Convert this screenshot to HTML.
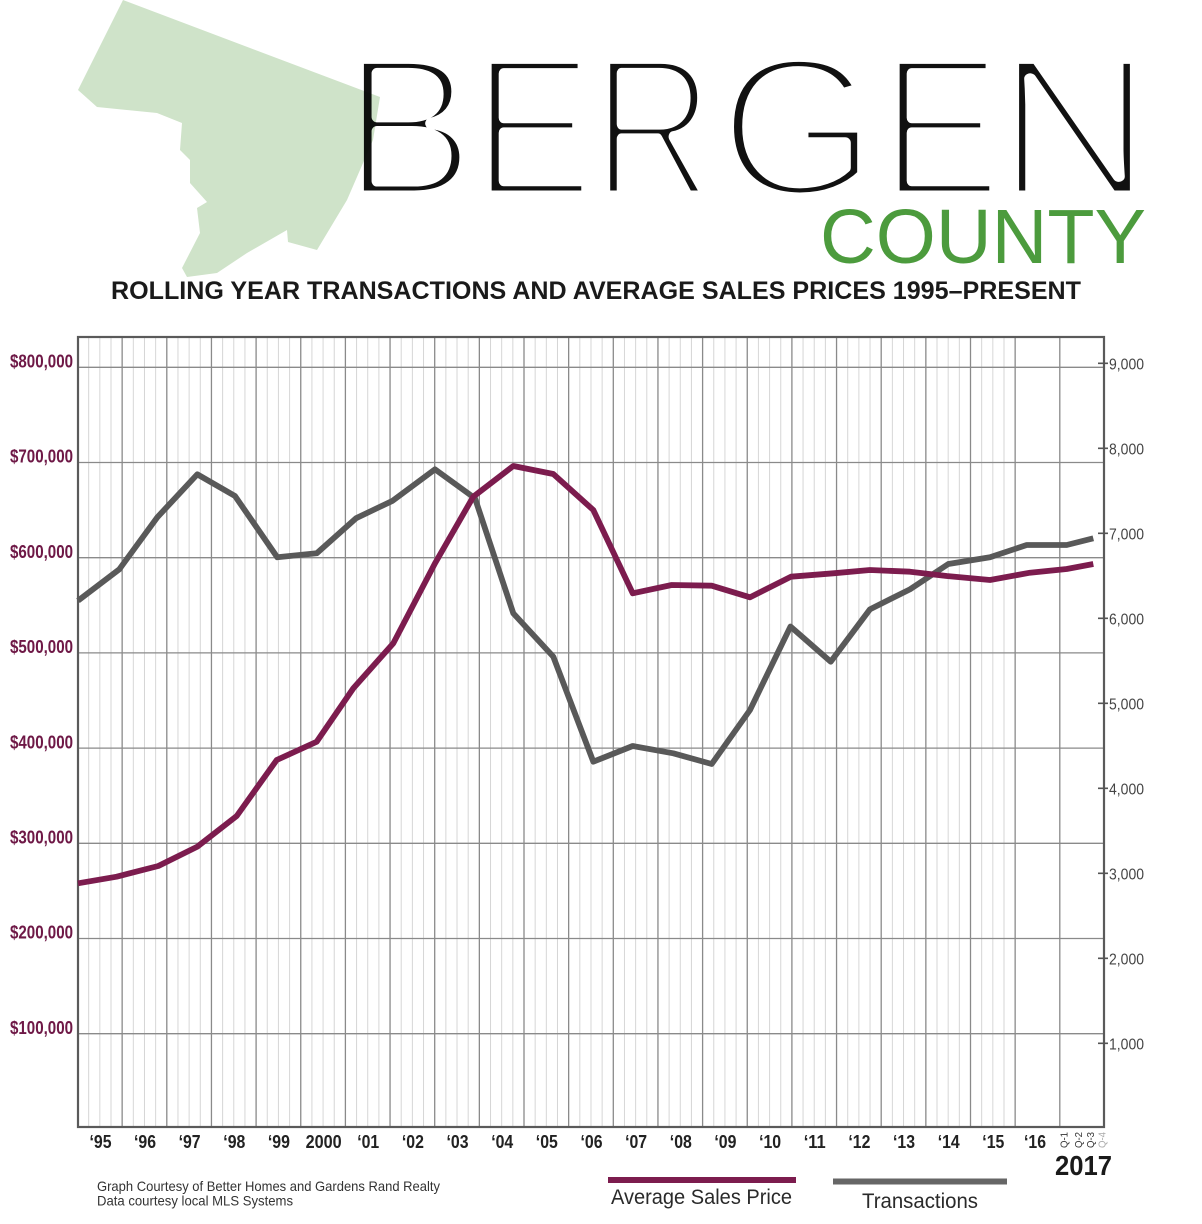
<!DOCTYPE html>
<html><head><meta charset="utf-8"><style>
html,body{margin:0;padding:0;background:#fff;}
svg{display:block;}
</style></head><body>
<svg width="1202" height="1224" viewBox="0 0 1202 1224" xmlns="http://www.w3.org/2000/svg" font-family="'Liberation Sans', Arial, sans-serif">
<rect width="1202" height="1224" fill="#fff"/>
<!-- BERGEN (thinned with white stroke painted over fill) -->
<g fill="#111" stroke="#fff" stroke-width="11" stroke-linejoin="round" font-size="200">
<text transform="translate(342,196)">B</text>
<text transform="translate(471.5,196) scale(0.92,1)">E</text>
<text transform="translate(591.6,196) scale(0.85,1)">R</text>
<text transform="translate(718,196) scale(1.03,1)">G</text>
<text transform="translate(879.5,196) scale(0.92,1)">E</text>
<text transform="translate(995,196) scale(1.1,1)">N</text>
</g>
<!-- map (multiplied so B shows through) -->
<polygon style="mix-blend-mode:multiply" fill="#cfe3c9" points="123,0 78,90 97,107 157,113 182,123 180,150 190,160 190,183 207,202 197,208 200,233 182,268 187,277 217,273 247,253 287,230 288,242 317,250 347,200 373,140 380,97"/>
<text x="820" y="263" font-size="77" fill="#4c9b3d" textLength="326" lengthAdjust="spacingAndGlyphs">COUNTY</text>
<text x="111" y="299" font-size="25" font-weight="bold" fill="#1a1a1a" textLength="970" lengthAdjust="spacingAndGlyphs">ROLLING YEAR TRANSACTIONS AND AVERAGE SALES PRICES 1995–PRESENT</text>

<!-- minor gridlines -->
<path fill="none" stroke="#d6d6d6" stroke-width="1" d="M88.6625 337v790m11.1625-790v790m11.1625-790v790m22.325-790v790m11.1625-790v790m11.1625-790v790m22.325-790v790m11.1625-790v790m11.1625-790v790m22.325-790v790m11.1625-790v790m11.1625-790v790m22.325-790v790m11.1625-790v790m11.1625-790v790m22.325-790v790m11.1625-790v790m11.1625-790v790m22.325-790v790m11.1625-790v790m11.1625-790v790m22.325-790v790m11.1625-790v790m11.1625-790v790m22.325-790v790m11.1625-790v790m11.1625-790v790m22.325-790v790m11.1625-790v790m11.1625-790v790m22.325-790v790m11.1625-790v790m11.1625-790v790m22.325-790v790m11.1625-790v790m11.1625-790v790m22.325-790v790m11.1625-790v790m11.1625-790v790m22.325-790v790m11.1625-790v790m11.1625-790v790m22.325-790v790m11.1625-790v790m11.1625-790v790m22.325-790v790m11.1625-790v790m11.1625-790v790m22.325-790v790m11.1625-790v790m11.1625-790v790m22.325-790v790m11.1625-790v790m11.1625-790v790m22.325-790v790m11.1625-790v790m11.1625-790v790m22.325-790v790m11.1625-790v790m11.1625-790v790m22.325-790v790m11.1625-790v790m11.1625-790v790"/>
<!-- major vertical gridlines -->
<path fill="none" stroke="#8a8a8a" stroke-width="1.3" d="M122.15 337v790m44.65-790v790m44.65-790v790m44.65-790v790m44.65-790v790m44.65-790v790m44.65-790v790m44.65-790v790m44.65-790v790m44.65-790v790m44.65-790v790m44.65-790v790m44.65-790v790m44.65-790v790m44.65-790v790m44.65-790v790m44.65-790v790m44.65-790v790m44.65-790v790m44.65-790v790m44.65-790v790m44.65-790v790"/>
<!-- horizontal gridlines -->
<path fill="none" stroke="#8a8a8a" stroke-width="1.3" d="M78 367.3H1104M78 462.5H1104M78 557.7H1104M78 652.9H1104M78 748.1H1104M78 843.3H1104M78 938.5H1104M78 1033.7H1104"/>
<!-- frame -->
<rect x="78" y="337" width="1026" height="790" fill="none" stroke="#5a5a5a" stroke-width="2.2"/>
<!-- right ticks -->
<path fill="none" stroke="#555" stroke-width="1.6" d="M1098 363.3h10M1098 448.3h10M1098 533.3h10M1098 618.3h10M1098 703.3h10M1098 788.3h10M1098 873.3h10M1098 958.3h10M1098 1043.3h10"/>

<!-- Transactions line -->
<polyline fill="none" stroke="#595959" stroke-width="5.8" stroke-linejoin="round" points="78,600.7 119.3,569.3 157.3,517.3 197.3,474.3 235,496 277.3,557.3 316.7,553.3 356,518.3 392.7,500.7 435,469.3 475,498.3 513.3,613.3 553.3,656.7 593.3,761.7 632.7,746 673.3,753.3 711.7,764 750,710 790.5,626.5 830.7,661.7 870,609.3 910,589.3 948.3,564 990,557.3 1026.7,545 1066.7,545 1093.3,538.3"/>
<!-- Avg price line -->
<polyline fill="none" stroke="#7c1c4e" stroke-width="5.8" stroke-linejoin="round" points="78,883.3 116.7,876.7 158.3,866 197.3,846.7 236.7,816 276.7,760 316.7,741.7 353.3,688.3 393.3,643.3 435,563.3 473.3,496.7 513.3,466 553.3,474 593.3,510 632.7,593.3 671.7,585 711.7,585.7 750,597.3 791,576.7 833.3,573.3 870,570 910,571.7 946.7,576 990,580 1030,572.7 1066.7,569 1093.3,564"/>

<!-- left labels -->
<g font-size="18.5" font-weight="bold" fill="#6e1846">
<text x="10" y="367.5" textLength="63" lengthAdjust="spacingAndGlyphs">$800,000</text>
<text x="10" y="462.7" textLength="63" lengthAdjust="spacingAndGlyphs">$700,000</text>
<text x="10" y="557.9" textLength="63" lengthAdjust="spacingAndGlyphs">$600,000</text>
<text x="10" y="653.1" textLength="63" lengthAdjust="spacingAndGlyphs">$500,000</text>
<text x="10" y="748.3" textLength="63" lengthAdjust="spacingAndGlyphs">$400,000</text>
<text x="10" y="843.5" textLength="63" lengthAdjust="spacingAndGlyphs">$300,000</text>
<text x="10" y="938.7" textLength="63" lengthAdjust="spacingAndGlyphs">$200,000</text>
<text x="10" y="1033.9" textLength="63" lengthAdjust="spacingAndGlyphs">$100,000</text>
</g>
<!-- right labels -->
<g font-size="16" fill="#444">
<text x="1109" y="369.5" textLength="35" lengthAdjust="spacingAndGlyphs">9,000</text>
<text x="1109" y="454.5" textLength="35" lengthAdjust="spacingAndGlyphs">8,000</text>
<text x="1109" y="539.5" textLength="35" lengthAdjust="spacingAndGlyphs">7,000</text>
<text x="1109" y="624.5" textLength="35" lengthAdjust="spacingAndGlyphs">6,000</text>
<text x="1109" y="709.5" textLength="35" lengthAdjust="spacingAndGlyphs">5,000</text>
<text x="1109" y="794.5" textLength="35" lengthAdjust="spacingAndGlyphs">4,000</text>
<text x="1109" y="879.5" textLength="35" lengthAdjust="spacingAndGlyphs">3,000</text>
<text x="1109" y="964.5" textLength="35" lengthAdjust="spacingAndGlyphs">2,000</text>
<text x="1109" y="1049.5" textLength="35" lengthAdjust="spacingAndGlyphs">1,000</text>
</g>
<!-- x labels -->
<g font-size="18.5" font-weight="bold" fill="#222" text-anchor="middle">
<text x="100.5" y="1148" textLength="22" lengthAdjust="spacingAndGlyphs">‘95</text>
<text x="145" y="1148" textLength="22" lengthAdjust="spacingAndGlyphs">‘96</text>
<text x="189.6" y="1148" textLength="22" lengthAdjust="spacingAndGlyphs">‘97</text>
<text x="234.3" y="1148" textLength="22" lengthAdjust="spacingAndGlyphs">‘98</text>
<text x="278.9" y="1148" textLength="22" lengthAdjust="spacingAndGlyphs">‘99</text>
<text x="323.6" y="1148" textLength="36" lengthAdjust="spacingAndGlyphs">2000</text>
<text x="368.2" y="1148" textLength="22" lengthAdjust="spacingAndGlyphs">‘01</text>
<text x="412.9" y="1148" textLength="22" lengthAdjust="spacingAndGlyphs">‘02</text>
<text x="457.5" y="1148" textLength="22" lengthAdjust="spacingAndGlyphs">‘03</text>
<text x="502.2" y="1148" textLength="22" lengthAdjust="spacingAndGlyphs">‘04</text>
<text x="546.8" y="1148" textLength="22" lengthAdjust="spacingAndGlyphs">‘05</text>
<text x="591.5" y="1148" textLength="22" lengthAdjust="spacingAndGlyphs">‘06</text>
<text x="636.1" y="1148" textLength="22" lengthAdjust="spacingAndGlyphs">‘07</text>
<text x="680.8" y="1148" textLength="22" lengthAdjust="spacingAndGlyphs">‘08</text>
<text x="725.4" y="1148" textLength="22" lengthAdjust="spacingAndGlyphs">‘09</text>
<text x="770.1" y="1148" textLength="22" lengthAdjust="spacingAndGlyphs">‘10</text>
<text x="814.7" y="1148" textLength="22" lengthAdjust="spacingAndGlyphs">‘11</text>
<text x="859.4" y="1148" textLength="22" lengthAdjust="spacingAndGlyphs">‘12</text>
<text x="904" y="1148" textLength="22" lengthAdjust="spacingAndGlyphs">‘13</text>
<text x="948.7" y="1148" textLength="22" lengthAdjust="spacingAndGlyphs">‘14</text>
<text x="993.3" y="1148" textLength="22" lengthAdjust="spacingAndGlyphs">‘15</text>
<text x="1035" y="1148" textLength="22" lengthAdjust="spacingAndGlyphs">‘16</text>
</g>
<!-- Q labels -->
<g font-size="10.5" fill="#333">
<text transform="translate(1067.5,1148) rotate(-90)" textLength="16" lengthAdjust="spacingAndGlyphs">Q-1</text>
<text transform="translate(1082,1148) rotate(-90)" textLength="16" lengthAdjust="spacingAndGlyphs">Q-2</text>
<text transform="translate(1094,1148) rotate(-90)" textLength="16" lengthAdjust="spacingAndGlyphs">Q-3</text>
<text transform="translate(1105.5,1148) rotate(-90)" textLength="16" lengthAdjust="spacingAndGlyphs" fill="#aaa">Q-4</text>
</g>
<text x="1055" y="1175" font-size="28" font-weight="bold" fill="#1a1a1a" textLength="57" lengthAdjust="spacingAndGlyphs">2017</text>

<!-- credits -->
<g font-size="14" fill="#333">
<text x="97" y="1191" textLength="343" lengthAdjust="spacingAndGlyphs">Graph Courtesy of Better Homes and Gardens Rand Realty</text>
<text x="97" y="1205.5" textLength="196" lengthAdjust="spacingAndGlyphs">Data courtesy local MLS Systems</text>
</g>
<!-- legend -->
<rect x="608" y="1177" width="188" height="6" fill="#7c1c4e"/>
<rect x="833" y="1178.5" width="174" height="6" fill="#666"/>
<text x="611" y="1204" font-size="21" fill="#2a2a2a" textLength="181" lengthAdjust="spacingAndGlyphs">Average Sales Price</text>
<text x="862" y="1208" font-size="21" fill="#2a2a2a" textLength="116" lengthAdjust="spacingAndGlyphs">Transactions</text>
</svg>
</body></html>
